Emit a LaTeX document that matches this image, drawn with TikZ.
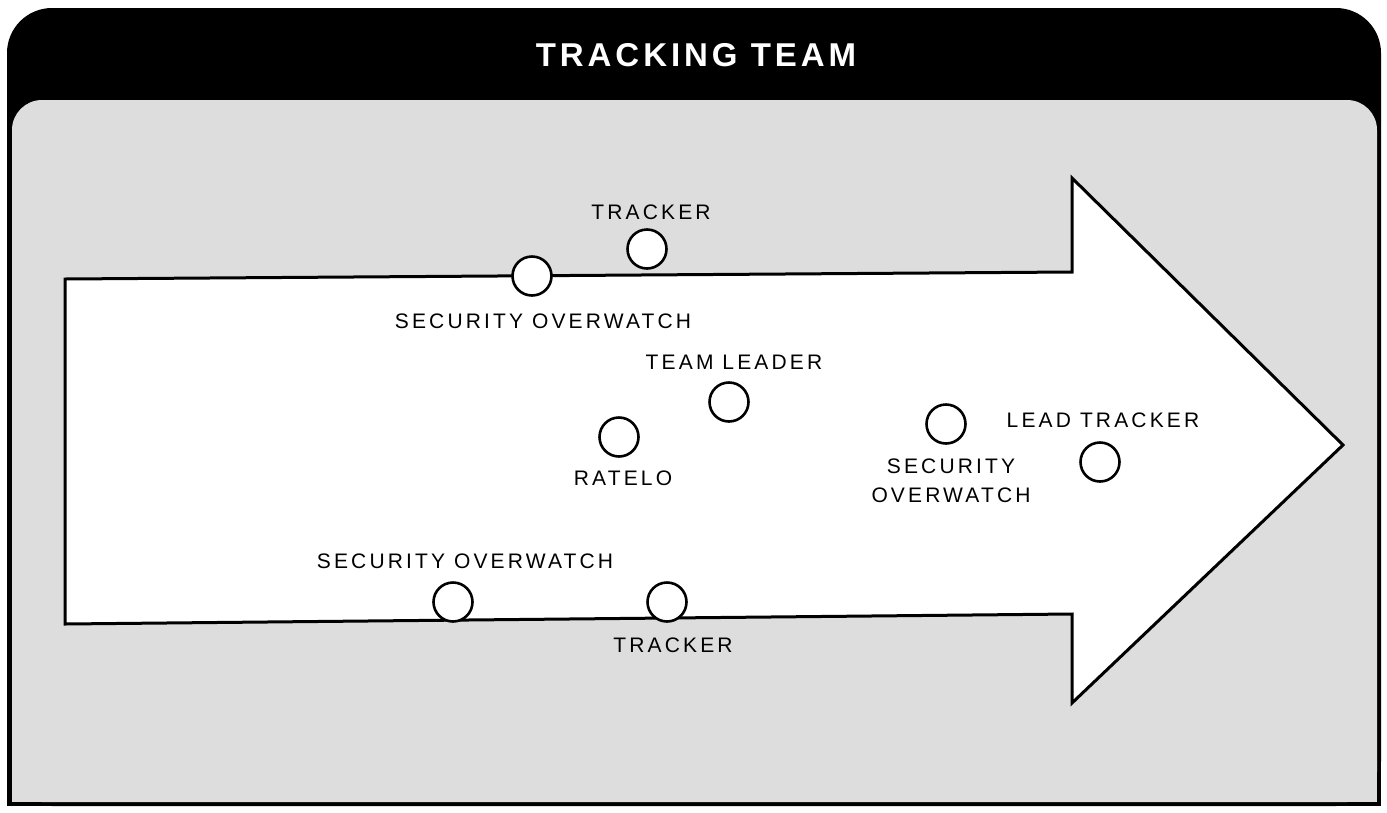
\documentclass[tikz,border=0pt]{standalone}
\usepackage{fontspec}
\setmainfont{Liberation Sans}
\newfontfamily\labfont[LetterSpace=15]{Liberation Sans}
\newfontfamily\ttlfont[LetterSpace=12]{Liberation Sans}
\definecolor{panelgrey}{HTML}{DDDDDD}
\tikzset{
  member/.style={circle, draw=black, line width=2.6pt, fill=white, minimum size=39pt, inner sep=0pt},
  lab/.style={inner sep=0pt, font=\labfont\fontsize{21pt}{29pt}\selectfont, text=black, align=center},
  ttl/.style={inner sep=0pt, font=\ttlfont\bfseries\fontsize{33pt}{36pt}\selectfont, text=white}
}
\begin{document}
\begin{tikzpicture}[x=1pt,y=-1pt]
\useasboundingbox (0,0) rectangle (1387,812);
\fill[white] (0,0) rectangle (1387,812);
% frame and header
\fill[black, rounded corners=45pt] (7,8) rectangle (1381,806);
\fill[black] (7,110) rectangle (1381,806);
\fill[panelgrey, rounded corners=30pt] (12,100) rectangle (1377,802);
\fill[panelgrey] (12,150) rectangle (1377,802);
\node[ttl] (title) at (696,55) {TRACKING TEAM};
% arrow
\draw[line width=3pt, fill=white, line join=miter]
  (65,279) -- (1072,272) -- (1072,178) -- (1343,445) -- (1072,703) -- (1072,614) -- (65,624) -- cycle;
% members
\node[member] (trk1) at (647,249) {};
\node[member] (sec1) at (532,276) {};
\node[member] (tl) at (729,402) {};
\node[member] (rto) at (619,437) {};
\node[member] (sec2) at (946,424) {};
\node[member] (lead) at (1100,462) {};
\node[member] (sec3) at (453,602) {};
\node[member] (trk2) at (667,602) {};
% labels
\node[lab] (ltrk1) at (651,212) {TRACKER};
\node[lab] (lsec1) at (543,321) {SECURITY OVERWATCH};
\node[lab] (ltl) at (734,362) {TEAM LEADER};
\node[lab] (lrto) at (623,478) {RATELO};
\node[lab] (llead) at (1103,420) {LEAD TRACKER};
\node[lab] (lsec2) at (951,481) {SECURITY\\OVERWATCH};
\node[lab] (lsec3) at (465,561) {SECURITY OVERWATCH};
\node[lab] (ltrk2) at (673,645) {TRACKER};
\end{tikzpicture}
\end{document}
